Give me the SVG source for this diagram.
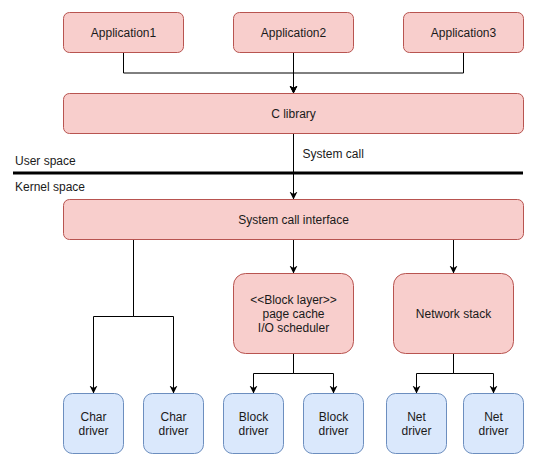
<svg xmlns="http://www.w3.org/2000/svg" width="536" height="462" viewBox="0 0 536 462">
<defs>
<style>
.red{fill:#f8cecc;stroke:#b85450;stroke-width:1}
.blue{fill:#dae8fc;stroke:#6c8ebf;stroke-width:1}
text{font-family:"Liberation Sans",Arial,sans-serif;font-size:12px;fill:#1a1a1a}
.c{text-anchor:middle}
.edge{fill:none;stroke:#000;stroke-width:1}
</style>
<marker id="arr" markerUnits="userSpaceOnUse" markerWidth="10" markerHeight="10" refX="8" refY="4" orient="auto" viewBox="0 0 10 8">
<path d="M0,0 L8,4 L0,8 L2.5,4 z" fill="#000"/>
</marker>
</defs>
<rect width="536" height="462" fill="#fff"/>

<g id="connectors">
<path class="edge" d="M123.5,52.5 V73 H293.5 V93.5" marker-end="url(#arr)"/>
<path class="edge" d="M463.5,52.5 V73 H293.5 V93.5" marker-end="url(#arr)"/>
<path class="edge" d="M293.5,52.5 V93.5" marker-end="url(#arr)"/>
<path class="edge" d="M293.5,133.5 V199.5" marker-end="url(#arr)"/>
<path class="edge" d="M133.5,239.5 V316.5 H93.5 V393.5" marker-end="url(#arr)"/>
<path class="edge" d="M133.5,239.5 V316.5 H173.5 V393.5" marker-end="url(#arr)"/>
<path class="edge" d="M293.5,239.5 V273.5" marker-end="url(#arr)"/>
<path class="edge" d="M453.5,239.5 V273.5" marker-end="url(#arr)"/>
<path class="edge" d="M293.5,353.5 V373.5 H253.5 V393.5" marker-end="url(#arr)"/>
<path class="edge" d="M293.5,353.5 V373.5 H333.5 V393.5" marker-end="url(#arr)"/>
<path class="edge" d="M453.5,353.5 V373.5 H416.5 V393.5" marker-end="url(#arr)"/>
<path class="edge" d="M453.5,353.5 V373.5 H493.5 V393.5" marker-end="url(#arr)"/>
</g>

<g id="boundary">
<line x1="13" y1="173" x2="523" y2="173" stroke="#000" stroke-width="3"/>
<text x="15" y="164.5">User space</text>
<text x="15" y="190.5">Kernel space</text>
<text x="302.5" y="158">System call</text>
</g>

<g id="app1"><rect class="red" x="63.5" y="12.5" width="120" height="40" rx="6"/><text class="c" x="123.5" y="36.5">Application1</text></g>
<g id="app2"><rect class="red" x="233.5" y="12.5" width="120" height="40" rx="6"/><text class="c" x="293.5" y="36.5">Application2</text></g>
<g id="app3"><rect class="red" x="403.5" y="12.5" width="120" height="40" rx="6"/><text class="c" x="463.5" y="36.5">Application3</text></g>
<g id="clib"><rect class="red" x="63.5" y="93.5" width="460" height="40" rx="6"/><text class="c" x="293.5" y="117.5">C library</text></g>
<g id="sci"><rect class="red" x="63.5" y="199.5" width="460" height="40" rx="6"/><text class="c" x="293.5" y="223.5">System call interface</text></g>
<g id="block"><rect class="red" x="233.5" y="273.5" width="120" height="80" rx="12"/>
<text class="c" x="293.5" y="303.5">&lt;&lt;Block layer&gt;&gt;</text>
<text class="c" x="293.5" y="317.5">page cache</text>
<text class="c" x="293.5" y="331.5">I/O scheduler</text></g>
<g id="net"><rect class="red" x="393.5" y="273.5" width="120" height="80" rx="12"/><text class="c" x="453.5" y="317.5">Network stack</text></g>

<g id="char1"><rect class="blue" x="63.5" y="393.5" width="60" height="60" rx="9"/><text class="c" x="93.5" y="420.5">Char</text><text class="c" x="93.5" y="434.5">driver</text></g>
<g id="char2"><rect class="blue" x="143.5" y="393.5" width="60" height="60" rx="9"/><text class="c" x="173.5" y="420.5">Char</text><text class="c" x="173.5" y="434.5">driver</text></g>
<g id="block1"><rect class="blue" x="223.5" y="393.5" width="60" height="60" rx="9"/><text class="c" x="253.5" y="420.5">Block</text><text class="c" x="253.5" y="434.5">driver</text></g>
<g id="block2"><rect class="blue" x="303.5" y="393.5" width="60" height="60" rx="9"/><text class="c" x="333.5" y="420.5">Block</text><text class="c" x="333.5" y="434.5">driver</text></g>
<g id="net1"><rect class="blue" x="386.5" y="393.5" width="60" height="60" rx="9"/><text class="c" x="416.5" y="420.5">Net</text><text class="c" x="416.5" y="434.5">driver</text></g>
<g id="net2"><rect class="blue" x="463.5" y="393.5" width="60" height="60" rx="9"/><text class="c" x="493.5" y="420.5">Net</text><text class="c" x="493.5" y="434.5">driver</text></g>
</svg>
